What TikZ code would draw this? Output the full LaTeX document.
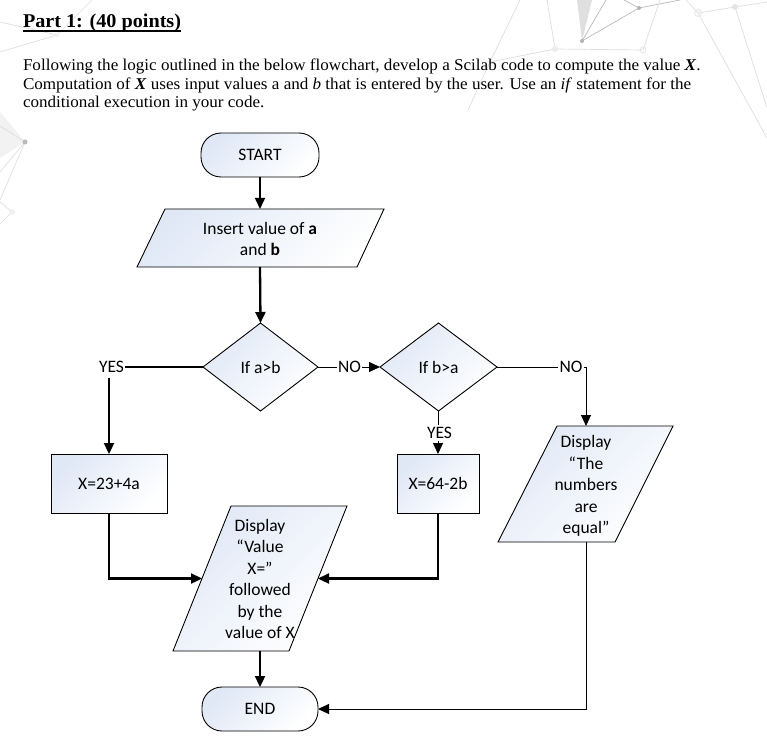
\documentclass[tikz,border=0pt]{standalone}
\usepackage{fontspec}
\setmainfont{Liberation Serif}
\newfontfamily\bodyfont{Liberation Serif}[FakeStretch=1.035]
\newfontfamily\flowfont{Carlito}
\usetikzlibrary{shapes.geometric,arrows.meta,calc}
\definecolor{fillA}{RGB}{224,232,246}
\definecolor{decoc}{RGB}{222,222,222}
\definecolor{decod}{RGB}{185,185,185}
\begin{document}
\begin{tikzpicture}[x=1pt,y=-1pt,
  every node/.style={inner sep=0pt, outer sep=0pt},
  flowtxt/.style={font=\flowfont\fontsize{17.5}{21.5}\selectfont, align=center},
  lbl/.style={font=\flowfont\fontsize{17.5}{21.5}\selectfont, inner sep=1.5pt},
  bodytxt/.style={anchor=base west, font=\bodyfont\fontsize{16.5}{19}\selectfont},
  shapefill/.style={top color=fillA, bottom color=white, shading angle=45},
  boxline/.style={draw=black, line width=0.9pt},
  thinconn/.style={line width=1pt},
  midconn/.style={line width=1.5pt},
  thickconn/.style={line width=2.3pt},
  arrowend/.style={-{Triangle[length=11pt,width=10pt]}},
  decoline/.style={draw=decoc, line width=0.7pt},
  decodark/.style={draw=decod, line width=0.7pt}
]
\useasboundingbox (0,0) rectangle (767,751);
\fill[white] (0,0) rectangle (767,751);

% background decoration
\fill[gray!25] (577,0) -- (582,41) -- (592,0) -- cycle;
\path[decodark] (582,41) -- (639,8) -- (680,0);
\path[decodark] (582,41) -- (606,0);
\path[decodark] (639,8) -- (624,0);
\path[decoline] (520,0) -- (490,62) -- (555,49) -- (643,50) -- (660,0);
\path[decoline] (555,49) -- (547,0);
\path[decoline] (490,62) -- (468,110);
\path[decoline] (698,13) -- (735,7) -- (767,2);
\path[decoline] (698,13) -- (767,138);
\path[decoline] (735,7) -- (767,108);
\path[decoline] (698,13) -- (686,0);
\fill[gray!60] (582,41) circle (2pt);
\fill[gray!60] (639,8) circle (2pt);
\fill[gray!15] (555,49) circle (3pt);
\draw[gray!20, line width=0.8pt] (643,50) circle (3pt);
\draw[gray!20, line width=0.8pt] (698,13) circle (3.5pt);
\fill[gray!20] (735,7) circle (3pt);
\fill[gray!10] (0,112) -- (25,142) -- (0,158) -- cycle;
\path[decoline] (0,126) -- (25,142) -- (0,172);
\path[decoline] (25,142) -- (0,200);
\fill[gray!55] (25,142) circle (2.5pt);
\path[decoline] (0,202) -- (12,212) -- (0,224);
\fill[gray!12] (12,212) circle (3pt);
\path[decoline] (0,52) -- (57,35) -- (92,0);
\path[decoline] (0,22) -- (57,35);
\fill[gray!12] (57,35) circle (2.5pt);

% heading and text
\node[anchor=base west, font=\bodyfont\fontsize{19.5}{23}\selectfont\bfseries] (title) at (23,27.7) {Part 1: (40 points)};
\draw[line width=1.5pt] ([yshift=-3.3pt]title.base west) -- ([yshift=-3.3pt]title.base east);
\node[bodytxt] (l1) at (23,71) {Following the logic outlined in the below flowchart, develop a Scilab code to compute the value \textbf{\textit{X}}.};
\node[bodytxt] (l2) at (23,89.5) {Computation of \textbf{\textit{X}} uses input values a and \textit{b} that is entered by the user. Use an \textit{if} statement for the};
\node[bodytxt] (l3) at (23,108) {conditional execution in your code.};

% flowchart shapes
\node[rectangle, rounded corners=20pt, minimum width=118pt, minimum height=44pt, boxline, shapefill, flowtxt] (start) at (260,155) {START};

\path[boxline, shapefill] (165,209) -- (384,209) -- (357,267) -- (137,267) -- cycle;
\node[flowtxt] (inp) at (260,239) {Insert value of \textbf{a}\\and \textbf{b}};
\coordinate (inp-n) at (260,209);
\coordinate (inp-s) at (260,267);

\node[diamond, minimum width=115pt, minimum height=88pt, boxline, shapefill, flowtxt] (d1) at (260.5,367) {If a>b};
\node[diamond, minimum width=117pt, minimum height=88pt, boxline, shapefill, flowtxt] (d2) at (438.5,367) {If b>a};

\node[rectangle, minimum width=116pt, minimum height=59pt, boxline, shapefill, flowtxt] (box1) at (109,483.5) {X=23+4a};
\node[rectangle, minimum width=82pt, minimum height=59pt, boxline, shapefill, flowtxt] (box2) at (438,483.5) {X=64-2b};

\path[boxline, shapefill] (231,506) -- (347,506) -- (289,651) -- (173,651) -- cycle;
\node[flowtxt] (disp) at (260,579) {Display\\“Value\\X=”\\followed\\by the\\value of X};
\coordinate (disp-w) at (202,578.5);
\coordinate (disp-e) at (318,578.5);
\coordinate (disp-s) at (260,651);

\path[boxline, shapefill] (557,426) -- (673,426) -- (615,542) -- (498,542) -- cycle;
\node[flowtxt] (num) at (586,486) {Display\\“The\\numbers\\are\\equal”};
\coordinate (num-n) at (586,426);
\coordinate (num-s) at (586,542);

\node[rectangle, rounded corners=20pt, minimum width=116pt, minimum height=44pt, boxline, shapefill, flowtxt] (end) at (260,709) {END};

% labels
\node[lbl] (yes1) at (111.5,367) {YES};
\node[lbl] (no1) at (349.5,367) {NO};
\node[lbl, inner sep=2.5pt] (yes2) at (439.5,433) {YES};
\node[lbl] (no2) at (571,367) {NO};

% connectors
\draw[midconn, arrowend] (start.south) -- (inp-n);
\draw[thickconn, arrowend] (inp-s) -- (d1.north);
\draw[thickconn] (d1.west) -- (yes1.east);
\draw[thickconn, arrowend] ([yshift=-4pt]yes1.south -| box1.north) -- (box1.north);
\draw[thinconn] (d1.east) -- (no1.west);
\draw[thinconn, arrowend] (no1.east) -- (d2.west);
\draw[thinconn] (d2.south) -- (yes2.north -| d2.south);
\draw[thinconn, arrowend] (yes2.south -| box2.north) -- (box2.north);
\draw[thinconn] (d2.east) -- (no2.west);
\draw[thinconn, arrowend] (no2.east) -| (num-n);
\draw[thickconn, arrowend] (box1.south) |- (disp-w);
\draw[thickconn, arrowend] (box2.south) |- (disp-e);
\draw[thickconn, arrowend] (disp-s) -- (end.north);
\draw[thinconn, arrowend] (num-s) |- (end.east);
\end{tikzpicture}
\end{document}
